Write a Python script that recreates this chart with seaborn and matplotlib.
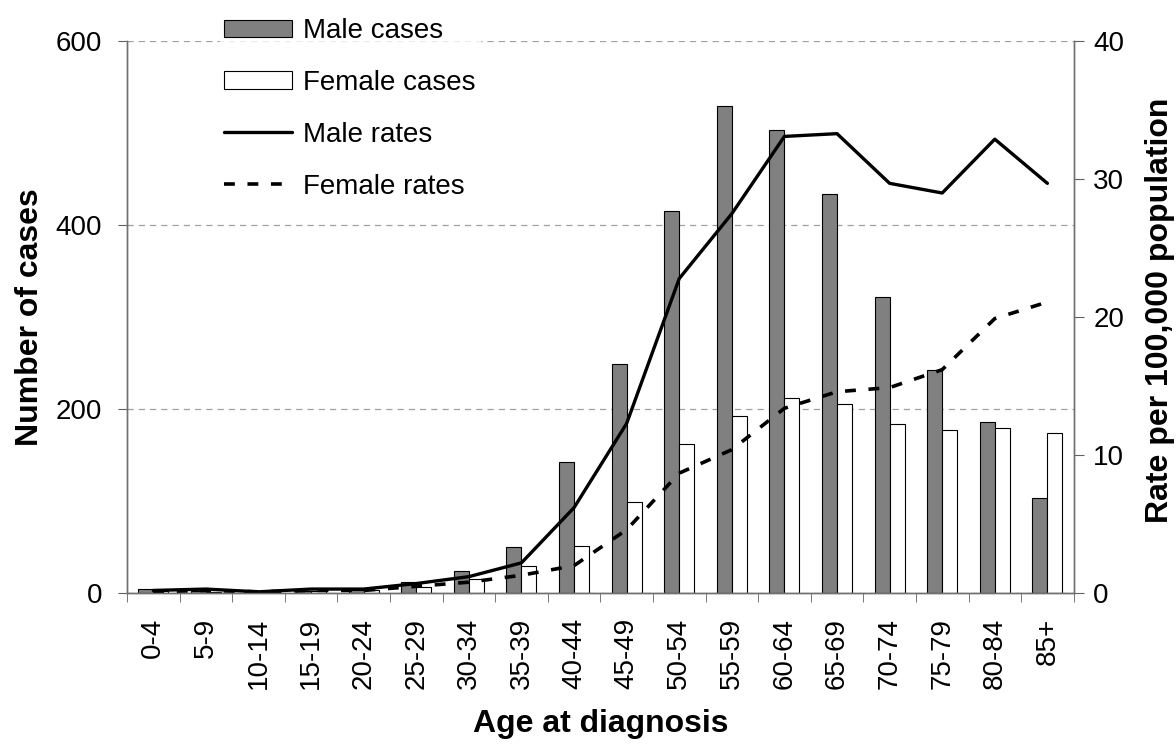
import numpy as np
import pandas as pd
import seaborn as sns
import matplotlib.pyplot as plt
from matplotlib.patches import Patch
from matplotlib.lines import Line2D

# age groups and values
age_groups = ["0-4", "5-9", "10-14", "15-19", "20-24", "25-29", "30-34", "35-39",
              "40-44", "45-49", "50-54", "55-59", "60-64", "65-69", "70-74",
              "75-79", "80-84", "85+"]
male_cases = [5, 2, 1, 2, 3, 12, 24, 50, 143, 249, 415, 530, 504, 434, 322, 243, 186, 103]
female_cases = [2, 1, 1, 2, 3, 7, 15, 30, 51, 99, 162, 193, 212, 206, 184, 177, 180, 174]
male_rates = [0.2, 0.3, 0.1, 0.3, 0.3, 0.7, 1.2, 2.2, 6.2, 12.3, 22.8, 27.5, 33.1, 33.3,
              29.7, 29.0, 32.9, 29.7]
female_rates = [0.1, 0.2, 0.1, 0.2, 0.2, 0.5, 0.8, 1.3, 2.0, 4.6, 8.7, 10.4, 13.4, 14.6,
                14.9, 16.2, 19.9, 21.1]

sns.set_style("white")
plt.rcParams['font.family'] = ['Liberation Sans', 'DejaVu Sans']
plt.rcParams['text.color'] = 'black'
plt.rcParams['axes.labelcolor'] = 'black'
plt.rcParams['xtick.color'] = 'black'
plt.rcParams['ytick.color'] = 'black'

cases = pd.DataFrame({
    "Age": age_groups * 2,
    "Cases": male_cases + female_cases,
    "Sex": ["Male"] * len(age_groups) + ["Female"] * len(age_groups),
})

fig = plt.figure(figsize=(11.76, 7.49), dpi=100)
ax = fig.add_axes([0.108, 0.208, 0.805, 0.737])

sns.barplot(data=cases, x="Age", y="Cases", hue="Sex", order=age_groups,
            hue_order=["Male", "Female"], palette={"Male": "#808080", "Female": "white"},
            width=0.57, gap=0, edgecolor="black", linewidth=0.8, legend=False, ax=ax)

ax.set_ylim(0, 600)
ax.set_yticks([0, 200, 400, 600])
ax.set_xlim(-0.5, len(age_groups) - 0.5)
ax.yaxis.grid(True, linestyle=(0, (5, 4)), color="#a0a0a0", linewidth=0.9)
ax.set_axisbelow(True)
ax.set_ylabel("Number of cases", fontsize=23, fontweight="bold", labelpad=7.5)
ax.set_xlabel("Age at diagnosis", fontsize=23, fontweight="bold", labelpad=14)
ax.tick_params(axis="y", labelsize=20, length=6.5, pad=11.5, color="#606060",
               direction="out", left=True)
ax.tick_params(axis="x", labelsize=20, rotation=90, length=0, pad=18)
# category boundary ticks like the original
ax.set_xticks(np.arange(-0.5, len(age_groups)), minor=True)
ax.tick_params(axis="x", which="minor", length=6.5, color="#606060", bottom=True)

ax2 = ax.twinx()
x_pos = np.arange(len(age_groups))
sns.lineplot(x=x_pos, y=male_rates, color="black", linewidth=2.4, ax=ax2)
sns.lineplot(x=x_pos, y=female_rates, color="black", linewidth=2.6,
             linestyle=(0, (3, 3.5)), ax=ax2)
ax2.set_ylim(0, 40)
ax2.set_yticks([0, 10, 20, 30, 40])
ax2.set_xlim(-0.5, len(age_groups) - 0.5)
ax2.set_ylabel("Rate per 100,000 population", fontsize=23, fontweight="bold", labelpad=15)
ax2.yaxis.label.set_y(0.513)
ax2.tick_params(axis="y", labelsize=20, length=7, pad=7, color="#606060",
                direction="out", right=True)

for a in (ax, ax2):
    a.spines["top"].set_visible(False)
    for s in ("left", "right", "bottom"):
        a.spines[s].set_color("#707070")
        a.spines[s].set_linewidth(1.0)

handles = [
    Patch(facecolor="#808080", edgecolor="black", linewidth=0.8, label="Male cases"),
    Patch(facecolor="white", edgecolor="black", linewidth=0.8, label="Female cases"),
    Line2D([], [], color="black", linewidth=2.4, label="Male rates"),
    Line2D([], [], color="black", linewidth=2.6, linestyle=(0, (3, 3.5)), label="Female rates"),
]
leg = ax2.legend(handles=handles, loc="upper left", bbox_to_anchor=(0.175, 1.0),
                 bbox_transform=fig.transFigure, fontsize=20, frameon=True,
                 handlelength=2.45, handleheight=0.58, labelspacing=0.93, handletextpad=0.4,
                 borderpad=0.15, fancybox=False)
leg.get_frame().set_edgecolor("white")
leg.get_frame().set_facecolor("white")

plt.savefig("out.png", dpi=100)
